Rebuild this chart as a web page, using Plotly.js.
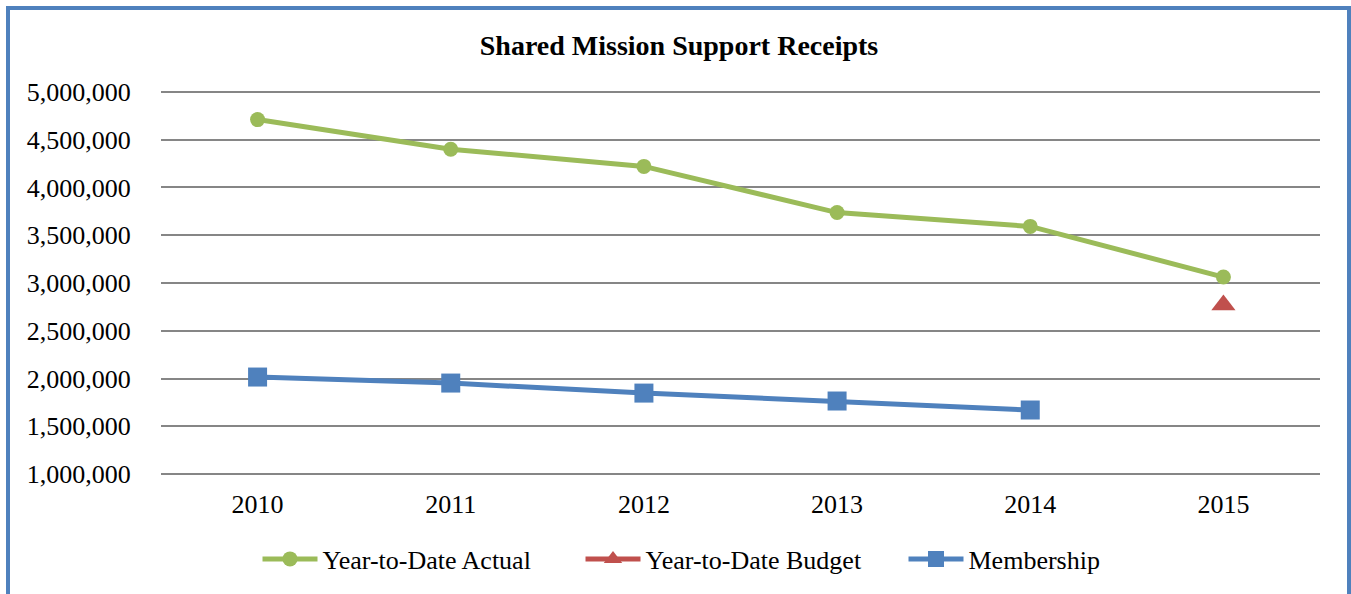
<!DOCTYPE html>
<html>
<head>
<meta charset="utf-8">
<script src="https://cdn.plot.ly/plotly-3.0.1.min.js"></script>
<style>
  html, body { margin: 0; padding: 0; background: #ffffff; overflow: hidden; }
  #chart { position: absolute; left: 0; top: 0; width: 1351px; height: 594px; }
  #frame { position: absolute; left: 6px; top: 6px; width: 1345px; height: 640px;
           box-sizing: border-box; border: 4px solid #4F81BD; pointer-events: none; }
</style>
</head>
<body>
<div id="chart"></div>
<div id="frame"></div>
<script>
const years = ['2010', '2011', '2012', '2013', '2014', '2015'];
const ytdActual = [4710000, 4400000, 4220000, 3737000, 3592000, 3062000];
const budgetYears = ['2015'];
const ytdBudget = [2770000];
const memberYears = ['2010', '2011', '2012', '2013', '2014'];
const membership = [2016000, 1953000, 1848000, 1765000, 1671000];
const yTicks = [1000000, 1500000, 2000000, 2500000, 3000000, 3500000, 4000000, 4500000, 5000000];

const serif = 'Liberation Serif, Times New Roman, serif';

const traces = [
  {
    type: 'scatter', mode: 'lines+markers', name: 'Year-to-Date Actual',
    x: years, y: ytdActual,
    line: { color: '#9BBB59', width: 5 },
    marker: { symbol: 'circle', size: 15, color: '#9BBB59' }
  },
  {
    type: 'scatter', mode: 'lines+markers', name: 'Year-to-Date Budget',
    x: budgetYears, y: ytdBudget,
    line: { color: '#C0504D', width: 5 },
    marker: { symbol: 'triangle-up', size: 21, color: '#C0504D' }
  },
  {
    type: 'scatter', mode: 'lines+markers', name: 'Membership',
    x: memberYears, y: membership,
    line: { color: '#4F81BD', width: 5 },
    marker: { symbol: 'square', size: 19, color: '#4F81BD' }
  }
];

const layout = {
  width: 1351, height: 594,
  paper_bgcolor: '#ffffff', plot_bgcolor: '#ffffff',
  margin: { l: 161, r: 31, t: 89, b: 117, autoexpand: false },
  font: { family: serif, size: 26, color: '#000000' },
  title: {
    text: '<b>Shared Mission Support Receipts</b>',
    font: { family: serif, size: 28, color: '#000000' },
    x: 0.5026, xref: 'container', xanchor: 'center',
    y: 0.9242, yref: 'container', yanchor: 'middle'
  },
  xaxis: {
    type: 'category', categoryorder: 'array', categoryarray: years,
    range: [-0.5, 5.5],
    showgrid: false, zeroline: false, showline: false,
    ticks: 'outside', ticklen: 4, tickcolor: 'rgba(0,0,0,0)',
    tickfont: { family: serif, size: 26, color: '#000000' }
  },
  yaxis: {
    range: [970000, 5030000],
    tickvals: yTicks, tickformat: ',',
    showgrid: true, gridcolor: '#868686', gridwidth: 2,
    zeroline: false, showline: false,
    ticks: 'outside', ticklen: 24, tickcolor: 'rgba(0,0,0,0)',
    tickfont: { family: serif, size: 26, color: '#000000' }
  },
  showlegend: true,
  legend: {
    orientation: 'h',
    x: 0.5013, xanchor: 'center',
    y: -0.2113, yanchor: 'middle',
    font: { family: serif, size: 26, color: '#000000' },
    itemwidth: 55,
    entrywidth: 253, entrywidthmode: 'pixels',
    bgcolor: 'rgba(0,0,0,0)'
  }
};

Plotly.newPlot('chart', traces, layout, { displayModeBar: false, staticPlot: true });
</script>
</body>
</html>
